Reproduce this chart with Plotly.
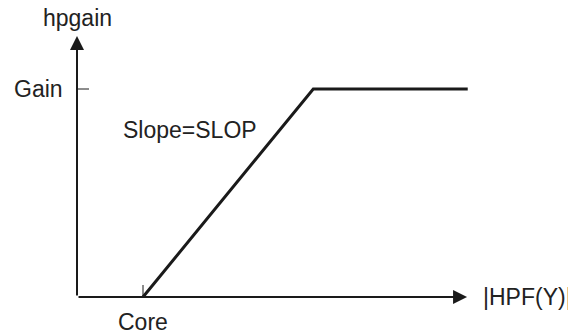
import plotly.graph_objects as go

# Data (arbitrary units): curve through core, knee, end
curve_x = [1.0, 3.58, 5.92]
curve_y = [0.0, 1.0, 1.0]
core_x = 1.0
gain_y = 1.0
x_axis_end = 5.91
y_axis_end = 1.255

labels = {"y": "hpgain", "x": "|HPF(Y)|", "gain": "Gain", "core": "Core", "slope": "Slope=SLOP"}

# page body has an 8px margin, so the figure starts at (8, 8)
PAD = 8
W, H = 576 - PAD, 332 - PAD
ox, oy = 77 - PAD, 297 - PAD
kx, ky = 66.0, 208.0

xr = [-ox / kx, (W - ox) / kx]
yr = [-(H - oy) / ky, oy / ky]

font = dict(family="Liberation Sans, Arial, sans-serif", size=23, color="#222222")
lc = "#1a1a1a"

fig = go.Figure()
fig.add_trace(go.Scatter(x=curve_x, y=curve_y, mode="lines",
                         line=dict(color=lc, width=3), hoverinfo="skip"))
# gain tick
fig.add_trace(go.Scatter(x=[0, 12 / kx], y=[gain_y, gain_y], mode="lines",
                         line=dict(color=lc, width=1), hoverinfo="skip"))
# core tick
fig.add_trace(go.Scatter(x=[core_x, core_x], y=[0, 12 / ky], mode="lines",
                         line=dict(color=lc, width=1), hoverinfo="skip"))

# axes with arrows
fig.add_annotation(x=x_axis_end, y=0, ax=0, ay=0, xref="x", yref="y", axref="x", ayref="y",
                   showarrow=True, arrowhead=2, arrowsize=1.4, arrowwidth=2, arrowcolor=lc, text="")
fig.add_annotation(x=0, y=y_axis_end, ax=0, ay=0, xref="x", yref="y", axref="x", ayref="y",
                   showarrow=True, arrowhead=2, arrowsize=1.4, arrowwidth=2, arrowcolor=lc, text="")

fig.add_annotation(x=0, y=y_axis_end + 18 / ky, text=labels["y"], showarrow=False, font=font,
                   xanchor="center", yanchor="middle")
fig.add_annotation(x=x_axis_end + 14 / kx, y=0, text=labels["x"], showarrow=False, font=font,
                   xanchor="left", yanchor="middle")
fig.add_annotation(x=-12 / kx, y=gain_y, text=labels["gain"], showarrow=False, font=font,
                   xanchor="right", yanchor="middle")
fig.add_annotation(x=core_x, y=-25 / ky, text=labels["core"], showarrow=False, font=font,
                   xanchor="center", yanchor="middle")
fig.add_annotation(x=core_x - 22 / kx, y=gain_y - 41 / ky, text=labels["slope"], showarrow=False, font=font,
                   xanchor="left", yanchor="middle")

fig.update_layout(width=W, height=H, margin=dict(l=0, r=0, t=0, b=0),
                  paper_bgcolor="white", plot_bgcolor="white", showlegend=False,
                  xaxis=dict(range=xr, visible=False, fixedrange=True),
                  yaxis=dict(range=yr, visible=False, fixedrange=True))
fig.write_html("out.html")
